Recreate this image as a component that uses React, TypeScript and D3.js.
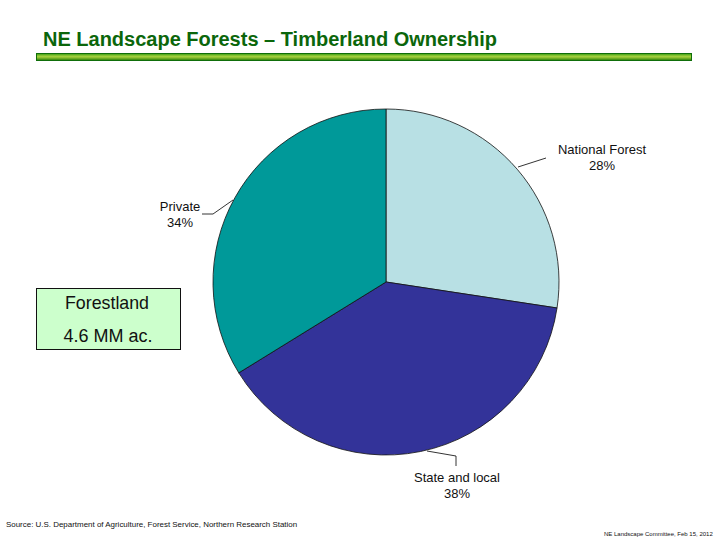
import * as d3 from "d3"

const categories = ["National Forest", "State and local", "Private"]
const shares = [27.4, 38.8, 33.8]
const shareLabels = ["28%", "38%", "34%"]
const colors = ["#b8e0e4", "#333399", "#009999"]
const boxLines = ["Forestland", "4.6 MM ac."]

const width = 720
const height = 540
const font = "Arial, 'Liberation Sans', sans-serif"

const cx = 386
const cy = 282
const radius = 173

const labelPos = [
  { x: 602, y: 154, leader: [[518, 167], [546, 158]] },
  { x: 457, y: 482, leader: [[427, 451], [456, 456], [456, 466]] },
  { x: 180, y: 211, leader: [[233, 200], [213, 214], [202, 214]] },
]

export default function App() {
  const pie = d3.pie<number>().sort(null)(shares)
  const arc = d3.arc<d3.PieArcDatum<number>>().innerRadius(0).outerRadius(radius)
  const line = d3.line()

  return (
    <svg
      width={width}
      height={height}
      style={{ position: "absolute", left: 0, top: 0, background: "#fff" }}
      fontFamily={font}
    >
      <defs>
        <linearGradient id="rule" x1="0" y1="0" x2="0" y2="1">
          <stop offset="0" stopColor="#2f9a0c" />
          <stop offset="0.4" stopColor="#a4d040" />
          <stop offset="0.6" stopColor="#8cc030" />
          <stop offset="1" stopColor="#1f7a08" />
        </linearGradient>
      </defs>

      <text x={43} y={46} fontSize={20} fontWeight="bold" fill="#0b660b" textLength={454}>
        NE Landscape Forests – Timberland Ownership
      </text>
      <rect x={36.5} y={53.5} width={655} height={7} fill="url(#rule)" stroke="#0f6e0a" />

      <g transform={`translate(${cx},${cy})`}>
        {pie.map((d, i) => (
          <path key={categories[i]} d={arc(d)!} fill={colors[i]} stroke="#111" strokeWidth={0.8} />
        ))}
      </g>

      {categories.map((c, i) => (
        <g key={c}>
          <path
            d={line(labelPos[i].leader as [number, number][])!}
            fill="none"
            stroke="#000"
            strokeWidth={0.8}
          />
          <text x={labelPos[i].x} y={labelPos[i].y} textAnchor="middle" fontSize={13} fill="#111">
            {c}
          </text>
          <text x={labelPos[i].x} y={labelPos[i].y + 16} textAnchor="middle" fontSize={13} fill="#111">
            {shareLabels[i]}
          </text>
        </g>
      ))}

      <rect x={36.5} y={288.5} width={144} height={61} fill="#ccffcc" stroke="#111" />
      <text x={107} y={309} textAnchor="middle" fontSize={17.8} fill="#111">{boxLines[0]}</text>
      <text x={108} y={342} textAnchor="middle" fontSize={18} fill="#111">{boxLines[1]}</text>

      <text x={6} y={527} fontSize={7.95} fill="#111">
        Source: U.S. Department of Agriculture, Forest Service, Northern Research Station
      </text>
      <text x={604} y={536} fontSize={6} fill="#111">
        NE Landscape Committee, Feb 15, 2012
      </text>
    </svg>
  )
}
